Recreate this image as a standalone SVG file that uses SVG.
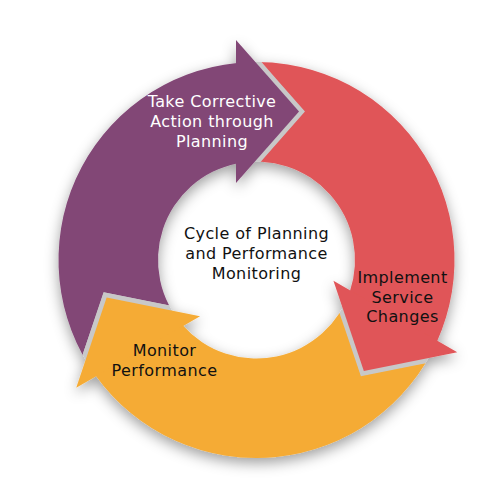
<svg xmlns="http://www.w3.org/2000/svg" xmlns:xlink="http://www.w3.org/1999/xlink" width="500" height="500" viewBox="0 0 500 500">
  <style>
    .purple { fill: #824676; }
    .red { fill: #E05558; }
    .orange { fill: #F5AB35; }
    .edge { fill: none; stroke: #C8C8C8; stroke-width: 9; stroke-linejoin: miter; }
    .lbl { font-family: "DejaVu Sans", "Noto Sans", sans-serif; font-size: 16px; letter-spacing: 0.4px; text-anchor: middle; }
    .dark { fill: #111111; }
    .light { fill: #FFFFFF; }
  </style>
  <defs>
    <path id="body" d="M 96.20 376.22 A 198 198 0 0 1 237 62.96 L 237 163.45 A 98.5 98.5 0 0 0 183.32 325.92 Z"/>
    <path id="head" d="M 236 40 L 299 111.5 L 236 183 Z"/>
    <path id="edgeline" d="M 236 40 L 299 111.5 L 236 183"/>
    <clipPath id="ringclip">
      <path clip-rule="evenodd" d="M 454.5 260 A 198 198 0 1 0 58.5 260 A 198 198 0 1 0 454.5 260 Z M 355 260 A 98.5 98.5 0 1 0 158 260 A 98.5 98.5 0 1 0 355 260 Z"/>
    </clipPath>
    <mask id="tailcut" maskUnits="userSpaceOnUse" x="-400" y="-400" width="1300" height="1300">
      <rect x="-400" y="-400" width="1300" height="1300" fill="#fff"/>
      <use xlink:href="#head" transform="rotate(240 256.5 260)" fill="#000" stroke="#000" stroke-width="9"/>
    </mask>
    <filter id="shadow" x="-20%" y="-20%" width="140%" height="140%">
      <feGaussianBlur in="SourceAlpha" stdDeviation="7"/>
      <feOffset dx="0" dy="5" result="b"/>
      <feFlood flood-color="#000" flood-opacity="0.38"/>
      <feComposite in2="b" operator="in"/>
      <feMerge>
        <feMergeNode/>
        <feMergeNode in="SourceGraphic"/>
      </feMerge>
    </filter>
  </defs>

  <g id="ring" filter="url(#shadow)">
    <g id="node-plan">
      <g>
        <use xlink:href="#body" class="purple" mask="url(#tailcut)"/>
        <use xlink:href="#edgeline" class="edge" clip-path="url(#ringclip)"/>
        <use xlink:href="#head" class="purple"/>
      </g>
    </g>
    <g id="node-implement">
      <g transform="rotate(120 256.5 260)">
        <use xlink:href="#body" class="red" mask="url(#tailcut)"/>
        <use xlink:href="#edgeline" class="edge" clip-path="url(#ringclip)"/>
        <use xlink:href="#head" class="red"/>
      </g>
    </g>
    <g id="node-monitor">
      <g transform="rotate(240 256.5 260)">
        <use xlink:href="#body" class="orange" mask="url(#tailcut)"/>
        <use xlink:href="#edgeline" class="edge" clip-path="url(#ringclip)"/>
        <use xlink:href="#head" class="orange"/>
      </g>
    </g>
  </g>

  <g id="labels">
    <g id="label-plan">
      <text class="lbl light" x="212" y="107">Take Corrective</text>
      <text class="lbl light" x="212" y="127">Action through</text>
      <text class="lbl light" x="212" y="147">Planning</text>
    </g>
    <g id="label-implement">
      <text class="lbl dark" x="402.5" y="283">Implement</text>
      <text class="lbl dark" x="402.5" y="302.5">Service</text>
      <text class="lbl dark" x="402.5" y="322">Changes</text>
    </g>
    <g id="label-monitor">
      <text class="lbl dark" x="164.5" y="356">Monitor</text>
      <text class="lbl dark" x="164.5" y="376">Performance</text>
    </g>
    <g id="label-center">
      <text class="lbl dark" x="256.5" y="239">Cycle of Planning</text>
      <text class="lbl dark" x="256.5" y="259">and Performance</text>
      <text class="lbl dark" x="256.5" y="279">Monitoring</text>
    </g>
  </g>
</svg>
